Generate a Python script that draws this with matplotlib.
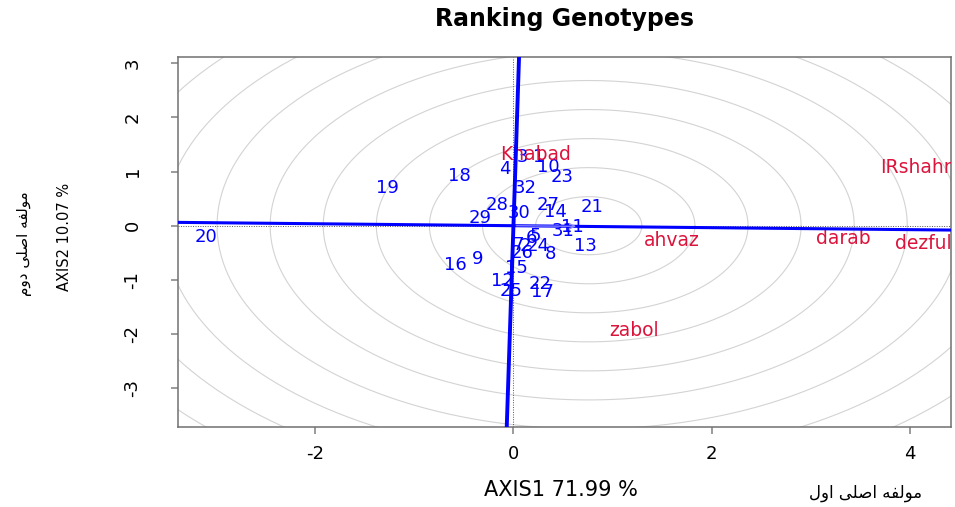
import numpy as np
import matplotlib
matplotlib.use("Agg")
import matplotlib.pyplot as plt

plt.rcParams['font.family'] = ['DejaVu Sans']
plt.rcParams['axes.unicode_minus'] = False

# genotype scores (AXIS1, AXIS2)
gen_names = [str(i) for i in range(1, 33)]
gen_x = [0.25, 0.12, 0.09, -0.09, 0.22, 0.18, 0.05, 0.37, -0.36, 0.35,
         0.59, -0.11, 0.73, 0.42, 0.03, -0.59, 0.29, -0.55, -1.27, -3.10,
         0.79, 0.27, 0.49, 0.25, -0.02, 0.09, 0.35, -0.17, -0.34, 0.06,
         0.50, 0.12]
gen_y = [1.27, -0.37, 1.26, 1.05, -0.19, -0.22, -0.35, -0.52, -0.61, 1.09,
         -0.02, -1.02, -0.37, 0.26, -0.78, -0.72, -1.22, 0.92, 0.70, -0.21,
         0.35, -1.07, 0.90, -0.37, -1.20, -0.50, 0.39, 0.39, 0.15, 0.24,
         -0.09, 0.70]

# environment scores
env_names = ['Khabad', 'IRshahr', 'ahvaz', 'darab', 'dezful', 'zabol']
env_x = [0.22, 4.06, 1.60, 3.33, 4.14, 1.22]
env_y = [1.31, 1.07, -0.28, -0.24, -0.33, -1.94]

# average environment axis and ideal genotype
avg_env = (0.66, -0.012)
ideal = (0.76, 0.0)
ring_step = 0.536
n_rings = 10

xlim = (-3.39, 4.42)
ylim = (-3.71, 3.12)

# crude persian shaping (matplotlib has no bidi / joining)
FORMS = {
    'ا': ('\uFE8D', '\uFE8E', None, None),
    'د': ('\uFEA9', '\uFEAA', None, None),
    'و': ('\uFEED', '\uFEEE', None, None),
    'م': ('\uFEE1', '\uFEE2', '\uFEE3', '\uFEE4'),
    'ل': ('\uFEDD', '\uFEDE', '\uFEDF', '\uFEE0'),
    'ف': ('\uFED1', '\uFED2', '\uFED3', '\uFED4'),
    'ه': ('\uFEE9', '\uFEEA', '\uFEEB', '\uFEEC'),
    'ص': ('\uFEB9', '\uFEBA', '\uFEBB', '\uFEBC'),
    'ی': ('\uFBFC', '\uFBFD', '\uFBFE', '\uFBFF'),
}


def shape(text):
    out = []
    for i, ch in enumerate(text):
        f = FORMS.get(ch)
        if f is None:
            out.append(ch)
            continue
        prev = text[i-1] if i > 0 else ''
        nxt = text[i+1] if i + 1 < len(text) else ''
        jp = prev in FORMS and FORMS[prev][2] is not None
        jn = f[2] is not None and nxt in FORMS
        if jp and jn:
            out.append(f[3])
        elif jp:
            out.append(f[1])
        elif jn:
            out.append(f[2])
        else:
            out.append(f[0])
    return ''.join(reversed(out))


fig = plt.figure(figsize=(9.55, 5.07), dpi=100)
ax = fig.add_axes([0.186, 0.1584, 0.8101, 0.7298])

# concentric rings round the ideal genotype
t = np.linspace(0, 2*np.pi, 400)
for k in range(1, n_rings + 1):
    r = ring_step * k
    ax.plot(ideal[0] + r*np.cos(t), ideal[1] + r*np.sin(t),
            color='#d3d3d3', lw=0.8, zorder=1)

ax.axhline(0, color='#555555', lw=0.7, ls=(0, (1, 1.5)), zorder=2)
ax.axvline(0, color='#555555', lw=0.7, ls=(0, (1, 1.5)), zorder=2)

# AEC abscissa and ordinate
slope = avg_env[1] / avg_env[0]
xs = np.array(xlim)
ax.plot(xs, slope*xs, color='#0000ff', lw=2.2, zorder=4)
ys = np.array(ylim)
ax.plot(-slope*ys, ys, color='#0000ff', lw=2.8, zorder=4)
ax.annotate('', xy=avg_env, xytext=(0, 0),
            arrowprops=dict(arrowstyle='->', color='#8c8cff', lw=0.9),
            zorder=5)

for name, x, y in zip(gen_names, gen_x, gen_y):
    ax.text(x, y, name, color='#0000ff', fontsize=13,
            ha='center', va='center', zorder=3, clip_on=True)
for name, x, y in zip(env_names, env_x, env_y):
    ax.text(x, y, name, color='#dc143c', fontsize=13.5,
            ha='center', va='center', zorder=3, clip_on=True)

ax.set_xlim(xlim)
ax.set_ylim(ylim)
ax.set_xticks([-2, 0, 2, 4])
ax.set_yticks([-3, -2, -1, 0, 1, 2, 3])
ax.tick_params(direction='out', length=5, width=1.1, color='#808080',
               labelsize=13, labelcolor='black')
ax.tick_params(axis='x', pad=8)
ax.tick_params(axis='y', pad=21)
for lab in ax.get_yticklabels():
    lab.set_rotation(90)
    lab.set_va('center')
for sp in ax.spines.values():
    sp.set_color('#707070')
    sp.set_linewidth(1.1)

fig.text(0.5916, 0.962, 'Ranking Genotypes', ha='center', va='center',
         fontsize=17, fontweight='bold')
fig.text(0.587, 0.034, 'AXIS1 71.99 %', ha='center', va='center',
         fontsize=15)
fig.text(0.068, 0.533, 'AXIS2 10.07 %', ha='center', va='center',
         fontsize=10.5, rotation=90)
fig.text(0.906, 0.028, shape('مولفه اصلی اول'), ha='center', va='center',
         fontsize=12)
fig.text(0.026, 0.52, shape('مولفه اصلی دوم'), ha='center', va='center',
         fontsize=11, rotation=90)

fig.savefig('out.png', dpi=100)
